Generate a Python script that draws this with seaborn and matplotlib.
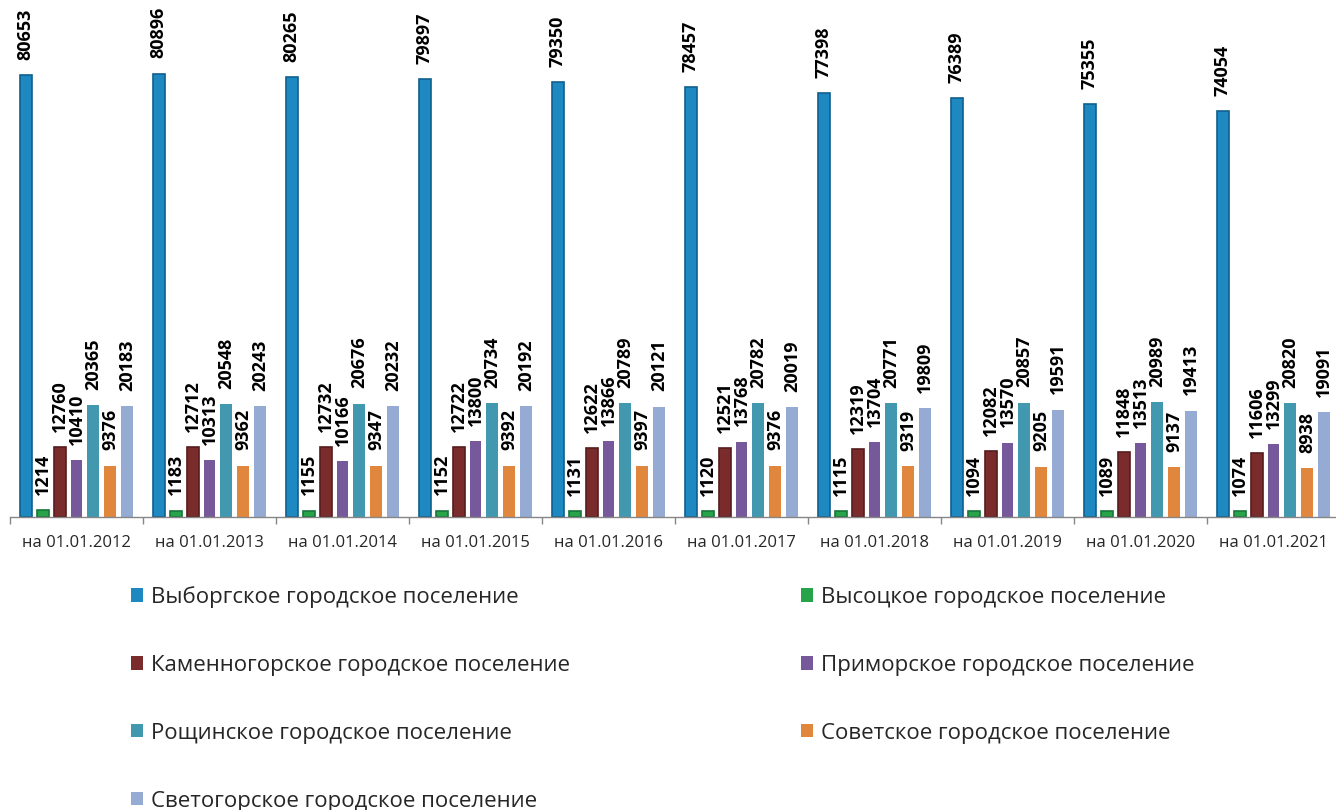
import matplotlib
matplotlib.use("Agg")
import matplotlib.pyplot as plt
import seaborn as sns
import pandas as pd
from matplotlib.patches import Patch

dates = ["на 01.01.2012", "на 01.01.2013", "на 01.01.2014", "на 01.01.2015",
         "на 01.01.2016", "на 01.01.2017", "на 01.01.2018", "на 01.01.2019",
         "на 01.01.2020", "на 01.01.2021"]
series_names = ["Выборгское городское поселение",
                "Высоцкое городское поселение",
                "Каменногорское городское поселение",
                "Приморское городское поселение",
                "Рощинское городское поселение",
                "Советское городское поселение",
                "Светогорское городское поселение"]
vyborg = [80653, 80896, 80265, 79897, 79350, 78457, 77398, 76389, 75355, 74054]
vysotsk = [1214, 1183, 1155, 1152, 1131, 1120, 1115, 1094, 1089, 1074]
kamennogorsk = [12760, 12712, 12732, 12722, 12622, 12521, 12319, 12082, 11848, 11606]
primorsk = [10410, 10313, 10166, 13800, 13866, 13768, 13704, 13570, 13513, 13299]
roshchino = [20365, 20548, 20676, 20734, 20789, 20782, 20771, 20857, 20989, 20820]
sovetsky = [9376, 9362, 9347, 9392, 9397, 9376, 9319, 9205, 9137, 8938]
svetogorsk = [20183, 20243, 20232, 20192, 20121, 20019, 19809, 19591, 19413, 19091]
colors = ["#1E88C0", "#27A34A", "#7A2B2B", "#76599A", "#4298AF", "#E0873D", "#96ABD3"]
edge_colors = ["#0F5F8F", "#17763A", "#561C1C", None, None, None, None]

all_values = [vyborg, vysotsk, kamennogorsk, primorsk, roshchino, sovetsky, svetogorsk]
rows = []
for name, vals in zip(series_names, all_values):
    for d, v in zip(dates, vals):
        rows.append({"date": d, "series": name, "value": v})
df = pd.DataFrame(rows)

sns.set_theme(style="white")
plt.rcParams["font.family"] = ["Open Sans", "DejaVu Sans"]

fig = plt.figure(figsize=(13.36, 8.10), dpi=100)
W, H = 1336, 810
ax = fig.add_axes([10 / W, (H - 517) / H, 1330 / W, 517 / H])

sns.barplot(data=df, x="date", y="value", hue="series", order=dates,
            hue_order=series_names, palette=colors, saturation=1,
            width=0.89, gap=0.3, legend=False, ax=ax)

for cont, ec in zip(ax.containers, edge_colors):
    for p in cont.patches:
        if ec:
            p.set_edgecolor(ec)
            p.set_linewidth(1.2)
        else:
            p.set_edgecolor("none")
    ax.bar_label(cont, fmt="{:.0f}", rotation=90, padding=11,
                 fontsize=13, fontweight="bold", color="black", clip_on=False)

ax.set_ylim(0, 94340)
ax.set_xlim(-0.5, len(dates) - 0.5)
ax.set_xlabel("")
ax.set_ylabel("")
ax.set_yticks([])
for s in ["left", "right", "top"]:
    ax.spines[s].set_visible(False)
ax.spines["bottom"].set_color("#868686")
ax.spines["bottom"].set_linewidth(1)

ax.set_xticks([i - 0.5 for i in range(len(dates) + 1)])
ax.set_xticklabels([])
ax.set_xticks(range(len(dates)), minor=True)
ax.set_xticklabels(dates, minor=True, fontsize=12)
ax.tick_params(axis="x", which="major", length=5, width=1, color="#868686",
               direction="out", bottom=True)
ax.tick_params(axis="x", which="minor", length=0, pad=13)

handles = [Patch(facecolor=c, edgecolor="none") for c in colors]
order = [0, 2, 4, 6, 1, 3, 5]
fig.legend([handles[i] for i in order], [series_names[i] for i in order],
           loc="upper left", bbox_to_anchor=(131 / W, 1 - 586 / H), ncol=2,
           frameon=False, fontsize=16, handlelength=0.55, handleheight=0.55,
           handletextpad=0.35, labelspacing=2.11, columnspacing=10.38,
           borderpad=0, borderaxespad=0)

fig.savefig("out.png", dpi=100)
